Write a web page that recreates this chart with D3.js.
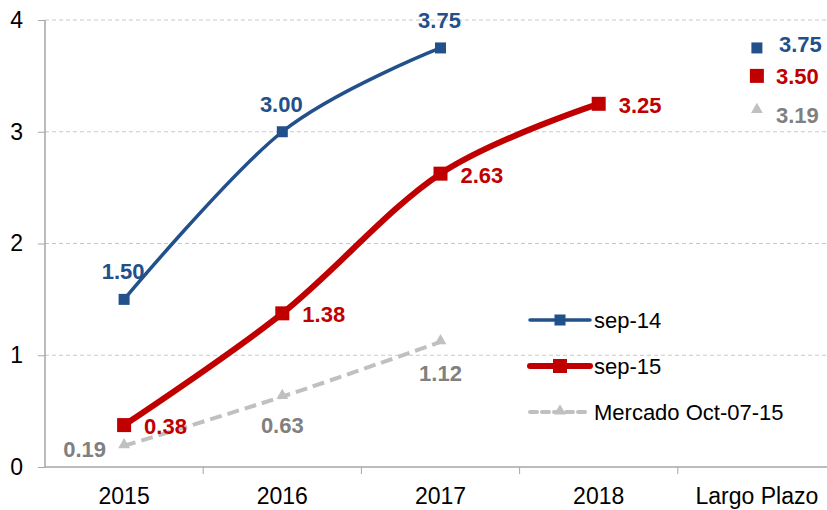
<!DOCTYPE html>
<html>
<head>
<meta charset="utf-8">
<script src="https://cdn.jsdelivr.net/npm/d3@7"></script>
<style>
  body { margin: 0; background: #fff; }
  text { font-family: "Liberation Sans", Arial, sans-serif; }
</style>
</head>
<body>
<div id="chart"></div>
<script>
var w = 827, h = 510;

// data
var categories = ["2015", "2016", "2017", "2018", "Largo Plazo"];
var sep14 = [1.50, 3.00, 3.75];
var sep15 = [0.375, 1.375, 2.625, 3.25];
var mercado = [0.19, 0.63, 1.12];
var largoPlazo = [3.75, 3.50, 3.19]; // sep-14, sep-15, mercado
var yTicks = [0, 1, 2, 3, 4];

var blue = "#22508a", red = "#c00000", grayLine = "#c0c0c0", grayText = "#808080";

var svg = d3.select("#chart").append("svg").attr("width", w).attr("height", h);

var x = d3.scaleBand().domain(categories).range([45, 836]);
var y = d3.scaleLinear().domain([0, 4]).range([467, 20]);
var cx = function(i){ return x(categories[i]) + x.bandwidth() / 2; };

// grid
svg.append("g").selectAll("line").data(yTicks.filter(function(d){ return d > 0; }))
  .enter().append("line")
  .attr("x1", 45).attr("x2", w).attr("y1", function(d){ return y(d); }).attr("y2", function(d){ return y(d); })
  .attr("stroke", "#c8c8c8").attr("stroke-width", 1).attr("stroke-dasharray", "4,3");

// y axis
var yAxis = svg.append("g").attr("transform", "translate(45,0)")
  .call(d3.axisLeft(y).tickValues(yTicks).tickSize(7).tickPadding(15).tickFormat(d3.format("d")));
yAxis.select(".domain").attr("stroke", "#a6a6a6").attr("stroke-width", 1.5).attr("d", "M0," + y(0) + "V" + y(4));
yAxis.selectAll(".tick line").attr("stroke", "#a6a6a6");
yAxis.selectAll(".tick text").attr("font-size", 23).attr("fill", "#000").attr("font-family", "Liberation Sans, Arial, sans-serif");

// x axis
var xAxis = svg.append("g").attr("transform", "translate(0," + y(0) + ")")
  .call(d3.axisBottom(x).tickSize(0).tickPadding(21));
xAxis.select(".domain").attr("stroke", "#a6a6a6").attr("stroke-width", 1.5).attr("d", "M45,0H" + w);
xAxis.selectAll(".tick text").attr("font-size", 23).attr("fill", "#000").attr("font-family", "Liberation Sans, Arial, sans-serif");
svg.append("g").selectAll("line").data(categories.slice(1)).enter().append("line")
  .attr("x1", function(d){ return x(d); }).attr("x2", function(d){ return x(d); })
  .attr("y1", y(0)).attr("y2", y(0) + 7).attr("stroke", "#a6a6a6");

var line = d3.line()
  .x(function(d, i){ return cx(i); })
  .y(function(d){ return y(d); })
  .curve(d3.curveCatmullRom.alpha(0));

// mercado (dashed gray)
svg.append("path").datum(mercado).attr("d", line).attr("fill", "none")
  .attr("stroke", grayLine).attr("stroke-width", 4).attr("stroke-dasharray", "12,6");
var tri = d3.symbol().type(d3.symbolTriangle).size(60);
svg.append("g").selectAll("path").data(mercado).enter().append("path")
  .attr("d", tri).attr("fill", grayLine)
  .attr("transform", function(d, i){ return "translate(" + cx(i) + "," + (y(d) - 1) + ")"; });

// sep-15 (thick red)
svg.append("path").datum(sep15).attr("d", line).attr("fill", "none")
  .attr("stroke", red).attr("stroke-width", 6);
svg.append("g").selectAll("rect").data(sep15).enter().append("rect")
  .attr("x", function(d, i){ return cx(i) - 7; }).attr("y", function(d){ return y(d) - 7; })
  .attr("width", 14).attr("height", 14).attr("fill", red);

// sep-14 (blue)
svg.append("path").datum(sep14).attr("d", line).attr("fill", "none")
  .attr("stroke", blue).attr("stroke-width", 3.5);
svg.append("g").selectAll("rect").data(sep14).enter().append("rect")
  .attr("x", function(d, i){ return cx(i) - 5.5; }).attr("y", function(d){ return y(d) - 5.5; })
  .attr("width", 11).attr("height", 11).attr("fill", blue);

// Largo Plazo markers
var lp = cx(4);
svg.append("rect").attr("x", lp - 5.5).attr("y", y(largoPlazo[0]) - 5.5).attr("width", 11).attr("height", 11).attr("fill", blue);
svg.append("rect").attr("x", lp - 7).attr("y", y(largoPlazo[1]) - 7).attr("width", 14).attr("height", 14).attr("fill", red);
svg.append("path").attr("d", tri).attr("fill", grayLine)
  .attr("transform", "translate(" + lp + "," + (y(largoPlazo[2]) - 1) + ")");

// data labels
var fmt = d3.format(".2f");
function label(px, py, txt, color, anchor){
  svg.append("text").attr("x", px).attr("y", py).text(txt)
    .attr("fill", color).attr("font-size", 22).attr("font-weight", "bold")
    .attr("text-anchor", anchor || "start");
}
sep14.forEach(function(d, i){ label(cx(i) - 1, y(d) - 20, fmt(d), blue, "middle"); });
sep15.forEach(function(d, i){ label(cx(i) + 20, y(d) + 9, fmt(d + 0.001), red); });
label(cx(0) - 18, y(mercado[0]) + 11, fmt(mercado[0]), grayText, "end");
label(cx(1), y(mercado[1]) + 36, fmt(mercado[1]), grayText, "middle");
label(cx(2), y(mercado[2]) + 39, fmt(mercado[2]), grayText, "middle");
label(lp + 22, y(largoPlazo[0]) + 4, fmt(largoPlazo[0]), blue);
label(lp + 19, y(largoPlazo[1]) + 8, fmt(largoPlazo[1]), red);
label(lp + 19, y(largoPlazo[2]) + 12.5, fmt(largoPlazo[2]), grayText);

// legend
var legend = [
  {name: "sep-14", color: blue, width: 3.5, dash: null, marker: "sq", size: 11},
  {name: "sep-15", color: red, width: 6, dash: null, marker: "sq", size: 14},
  {name: "Mercado Oct-07-15", color: grayLine, width: 4, dash: "7,5", marker: "tri", size: 0}
];
var lg = svg.append("g").selectAll("g").data(legend).enter().append("g")
  .attr("transform", function(d, i){ return "translate(530," + (320 + i * 46) + ")"; });
lg.append("line").attr("x1", 0).attr("x2", 60).attr("stroke", function(d){ return d.color; })
  .attr("stroke-width", function(d){ return d.width; })
  .attr("stroke-dasharray", function(d){ return d.dash; }).attr("stroke-linecap", "round");
lg.filter(function(d){ return d.marker === "sq"; }).append("rect")
  .attr("x", function(d){ return 30 - d.size / 2; }).attr("y", function(d){ return -d.size / 2; })
  .attr("width", function(d){ return d.size; }).attr("height", function(d){ return d.size; })
  .attr("fill", function(d){ return d.color; });
lg.filter(function(d){ return d.marker === "tri"; }).append("path")
  .attr("d", tri).attr("fill", grayLine).attr("transform", "translate(30,-1)");
lg.append("text").attr("x", 64).attr("y", 8).text(function(d){ return d.name; })
  .attr("font-size", 22).attr("fill", "#000");
</script>
</body>
</html>
